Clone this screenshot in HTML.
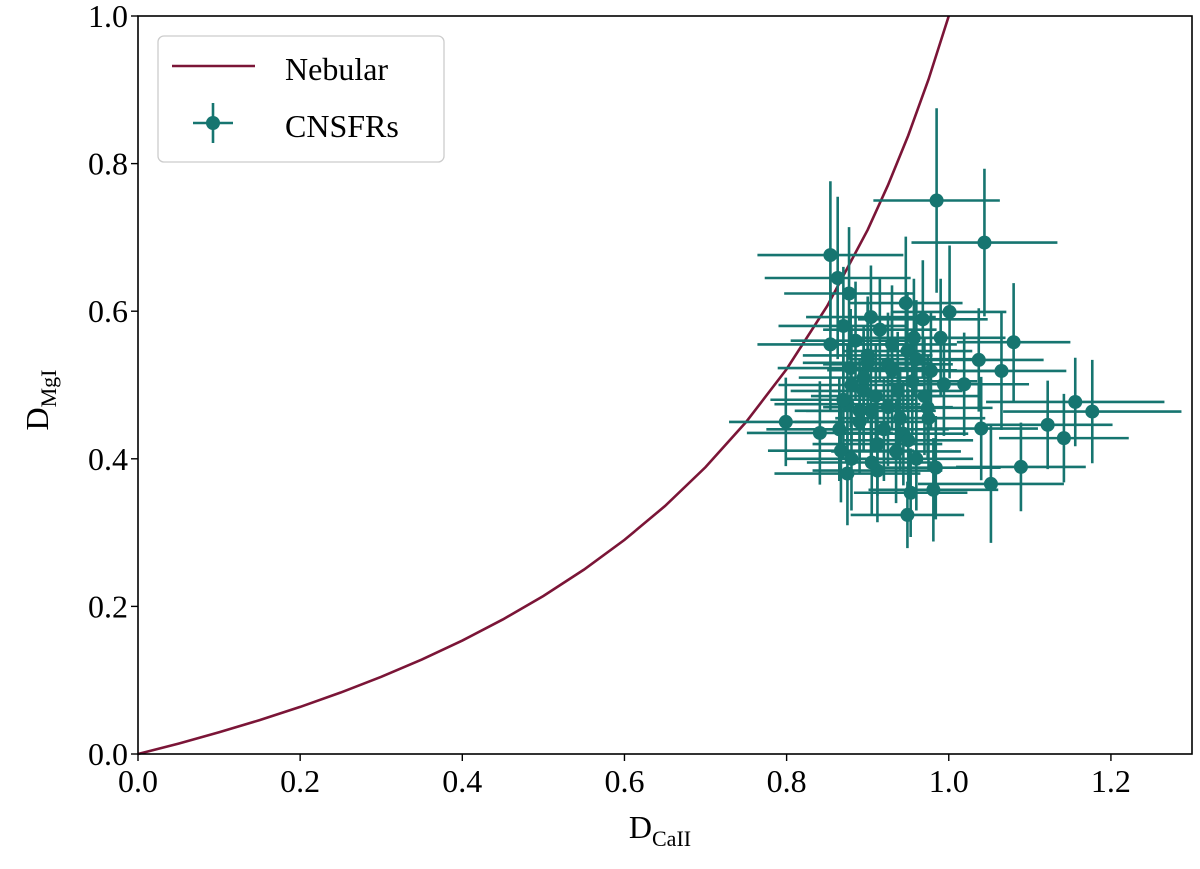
<!DOCTYPE html>
<html><head><meta charset="utf-8"><style>
html,body{margin:0;padding:0;background:#fff;}
svg text{font-family:"Liberation Serif",serif;fill:#000;}
</style></head><body>
<svg id="chart" width="1200" height="864" xmlns="http://www.w3.org/2000/svg">
<g id="curve"></g>
<g id="pts"></g>
<rect x="138" y="16" width="1054" height="738" fill="none" stroke="#000" stroke-width="1.6"/>
<g id="ticks"></g>
<text x="660" y="838" font-size="32" text-anchor="middle">D<tspan font-size="22" dy="8">CaII</tspan></text>
<text transform="translate(48,400) rotate(-90)" font-size="32" text-anchor="middle">D<tspan font-size="22" dy="8">MgI</tspan></text>
<g>
<rect x="158" y="36" width="286" height="126" rx="6" fill="#fff" fill-opacity="0.85" stroke="#ccc" stroke-width="1.3"/>
<line x1="172" y1="66" x2="255" y2="66" stroke="#7b1537" stroke-width="2.6"/>
<text x="285" y="80" font-size="32">Nebular</text>
<line x1="193" y1="123" x2="233" y2="123" stroke="#167570" stroke-width="2.6"/>
<line x1="213" y1="103" x2="213" y2="143" stroke="#167570" stroke-width="2.6"/>
<circle cx="213" cy="123" r="7" fill="#167570"/>
<text x="285" y="137" font-size="32">CNSFRs</text>
</g>
</svg>
<script>
const nebX=[0,0.05,0.1,0.15,0.2,0.25,0.3,0.35,0.4,0.45,0.5,0.55,0.6,0.65,0.7,0.75,0.8,0.85,0.9,0.925,0.95,0.975,1.0];
const nebY=[0,0.0141,0.0294,0.0459,0.0638,0.0833,0.1046,0.1279,0.1537,0.1823,0.2141,0.2498,0.2901,0.3360,0.3887,0.4498,0.5215,0.6069,0.7103,0.7707,0.8381,0.9140,1.0];
const ptX=[0.985,1.044,0.854,0.863,0.877,0.947,1.001,0.904,0.968,0.854,1.080,1.037,1.065,0.990,0.949,0.879,0.925,0.978,1.019,0.994,0.875,0.904,0.974,1.156,1.177,0.799,1.122,0.841,1.142,1.040,0.867,0.912,0.944,1.089,0.984,0.875,0.912,1.052,0.953,0.981,0.949,0.895,0.937,0.957,
0.870,0.885,0.900,0.915,0.930,0.960,0.880,0.895,0.910,0.925,0.940,0.955,0.970,0.865,0.890,0.920,0.950,0.975,0.880,0.905,0.935,0.960,0.870,0.900,0.930,0.890];
const ptY=[0.750,0.693,0.676,0.645,0.624,0.611,0.599,0.592,0.589,0.555,0.558,0.534,0.519,0.564,0.546,0.523,0.528,0.519,0.501,0.501,0.474,0.465,0.469,0.477,0.464,0.450,0.446,0.435,0.428,0.441,0.411,0.420,0.434,0.389,0.388,0.380,0.384,0.366,0.354,0.358,0.324,0.492,0.492,0.564,
0.580,0.560,0.540,0.575,0.520,0.535,0.500,0.510,0.485,0.470,0.455,0.505,0.485,0.440,0.450,0.440,0.425,0.455,0.400,0.395,0.410,0.400,0.480,0.530,0.555,0.465];
const ptXErr=[0.078,0.09,0.09,0.09,0.08,0.07,0.07,0.08,0.08,0.09,0.07,0.08,0.08,0.08,0.08,0.09,0.08,0.08,0.08,0.07,0.09,0.08,0.08,0.11,0.11,0.07,0.08,0.09,0.08,0.07,0.09,0.08,0.08,0.08,0.08,0.09,0.08,0.09,0.07,0.08,0.07,0.09,0.08,0.08,
0.08,0.08,0.08,0.07,0.08,0.08,0.09,0.08,0.08,0.08,0.08,0.08,0.07,0.09,0.08,0.08,0.08,0.07,0.08,0.08,0.08,0.07,0.09,0.08,0.08,0.08];
const ptYErr=[0.125,0.10,0.10,0.11,0.09,0.09,0.09,0.07,0.08,0.09,0.08,0.07,0.08,0.08,0.08,0.08,0.07,0.08,0.07,0.07,0.08,0.07,0.07,0.06,0.07,0.06,0.06,0.07,0.06,0.07,0.07,0.07,0.07,0.06,0.07,0.07,0.07,0.08,0.06,0.07,0.045,0.08,0.08,0.08,
0.08,0.08,0.08,0.07,0.08,0.08,0.08,0.07,0.07,0.08,0.07,0.07,0.08,0.07,0.07,0.07,0.07,0.07,0.07,0.07,0.07,0.07,0.08,0.08,0.08,0.07];
const xTicks=[0,0.2,0.4,0.6,0.8,1.0,1.2];
const yTicks=[0,0.2,0.4,0.6,0.8,1.0];
const xTickLabels=["0.0","0.2","0.4","0.6","0.8","1.0","1.2"];
const yTickLabels=["0.0","0.2","0.4","0.6","0.8","1.0"];

const X0=138,XW=1054,XMIN=0,XMAX=1.3,Y0=754,YH=738,YMIN=0,YMAX=1.0;
function sx(v){return X0+(v-XMIN)/(XMAX-XMIN)*XW;}
function sy(v){return Y0-(v-YMIN)/(YMAX-YMIN)*YH;}
const NS="http://www.w3.org/2000/svg";
function mk(tag,attrs,parent){const e=document.createElementNS(NS,tag);for(const k in attrs)e.setAttribute(k,attrs[k]);parent.appendChild(e);return e;}

const curveG=document.getElementById('curve');
const poly=mk('polyline',{points:nebX.map((x,i)=>sx(x)+','+sy(nebY[i])).join(' '),fill:'none',stroke:'#7b1537','stroke-width':2.6},curveG);



const ptsG=document.getElementById('pts');
const C='#167570';
for(let i=0;i<ptX.length;i++){
  const cx=sx(ptX[i]),cy=sy(ptY[i]);
  const h=mk('line',{x1:sx(ptX[i]-ptXErr[i]),x2:sx(ptX[i]+ptXErr[i]),y1:cy,y2:cy,stroke:C,'stroke-width':2.6},ptsG);
  
  
  const v=mk('line',{x1:cx,x2:cx,y1:sy(ptY[i]-ptYErr[i]),y2:sy(ptY[i]+ptYErr[i]),stroke:C,'stroke-width':2.6},ptsG);
  
  
}
for(let i=0;i<ptX.length;i++){
  const c=mk('circle',{cx:sx(ptX[i]),cy:sy(ptY[i]),r:7,fill:C},ptsG);
  
  
}

const tg=document.getElementById('ticks');
xTicks.forEach((t,i)=>{
  const l=mk('line',{x1:sx(t),x2:sx(t),y1:Y0,y2:Y0+7,stroke:'#000','stroke-width':1.4},tg);
  
  
  const tx=mk('text',{x:sx(t),y:Y0+38,'font-size':32,'text-anchor':'middle'},tg);
  tx.textContent=xTickLabels[i];
  
  
});
yTicks.forEach((t,i)=>{
  const l=mk('line',{x1:X0-7,x2:X0,y1:sy(t),y2:sy(t),stroke:'#000','stroke-width':1.4},tg);
  
  
  const tx=mk('text',{x:X0-10,y:sy(t)+11,'font-size':32,'text-anchor':'end'},tg);
  tx.textContent=yTickLabels[i];
  
  
});
</script>
</body></html>
